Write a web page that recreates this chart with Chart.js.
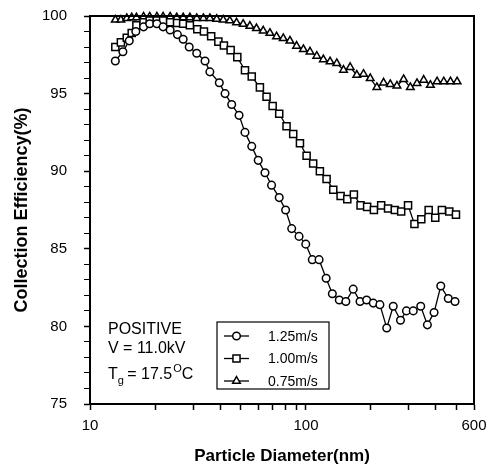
<!DOCTYPE html>
<html>
<head>
<meta charset="utf-8">
<script src="https://cdn.jsdelivr.net/npm/chart.js@4.4.0/dist/chart.umd.min.js"></script>
<style>
  html, body { margin: 0; padding: 0; background: #fff; }
</style>
</head>
<body>
<canvas id="c" width="493" height="468"></canvas>
<script>
// particle diameter (nm) and collection efficiency (%) for each gas velocity
const diam125 = [13.1, 14.2, 15.2, 16.3, 17.7, 18.9, 20.4, 21.8, 23.5, 25.4, 27.0, 28.8, 31.2, 34.1, 35.9, 39.7, 42.2, 45.3, 49.0, 52.2,
  56.1, 60.1, 64.6, 69.3, 75.2, 80.5, 85.9, 92.9, 99.8, 107, 115, 124, 132.5, 142.7, 153, 165.5, 178, 191, 205, 220,
  236.6, 253.6, 274, 292, 314, 340, 365, 392, 421, 456, 490];
const eff125 = [97.1, 97.7, 98.4, 99.0, 99.3, 99.5, 99.5, 99.3, 99.1, 98.8, 98.5, 98.0, 97.6, 97.1, 96.4, 95.7, 95.0, 94.3, 93.6, 92.5,
  91.6, 90.7, 89.9, 89.1, 88.3, 87.5, 86.3, 85.8, 85.3, 84.3, 84.3, 83.1, 82.1, 81.7, 81.6, 82.4, 81.6, 81.7, 81.5, 81.4,
  79.9, 81.3, 80.4, 81.0, 81.0, 81.3, 80.1, 80.9, 82.6, 81.8, 81.6];

const diam100 = [13.1, 13.9, 14.8, 15.6, 16.4, 17.7, 18.9, 20.4, 21.8, 23.5, 25.3, 27.0, 29.0, 31.4, 33.7, 36.4, 39.3, 41.7, 44.8, 48.1,
  52.2, 56.1, 61.2, 65.7, 70.1, 75.2, 81.3, 87.3, 93.8, 100.7, 108, 116, 124.6, 133.8, 144.7, 155.4, 166.7, 179, 192, 206.4,
  223, 240, 258, 276, 297, 318, 342, 370, 397, 426, 461, 495];
const eff100 = [98.0, 98.3, 98.6, 98.9, 99.4, 99.6, 99.7, 99.7, 99.7, 99.6, 99.55, 99.5, 99.4, 99.15, 99.0, 98.7, 98.35, 98.1, 97.8, 97.35,
  96.5, 96.1, 95.4, 94.8, 94.2, 93.7, 92.9, 92.4, 91.8, 91.0, 90.5, 90.0, 89.5, 88.8, 88.4, 88.2, 88.5, 87.8, 87.7, 87.5,
  87.8, 87.6, 87.5, 87.4, 87.8, 86.6, 86.9, 87.5, 87.0, 87.5, 87.4, 87.2];

const diam075 = [13.1, 13.9, 14.8, 15.6, 16.4, 17.7, 18.9, 20.4, 21.8, 23.5, 25.2, 27.0, 29.0, 31.2, 33.5, 35.9, 38.6, 41.4, 44.4, 47.7,
  51.2, 55.0, 59.0, 63.4, 68.1, 73.1, 78.5, 84.3, 90.5, 97.3, 104.4, 112.2, 120.4, 129.3, 138.9, 149.2, 160.2, 172, 184.7, 198.4,
  213, 228.8, 245.7, 263.8, 283.3, 304.3, 326.7, 350.9, 376.8, 404.7, 434.6, 466.7, 501];
const eff075 = [99.75, 99.75, 99.85, 99.9, 99.9, 99.95, 99.95, 99.95, 99.95, 99.95, 99.9, 99.9, 99.9, 99.85, 99.85, 99.85, 99.8, 99.75, 99.7, 99.57,
  99.48, 99.36, 99.2, 99.05, 98.9, 98.67, 98.56, 98.4, 98.07, 97.85, 97.7, 97.42, 97.2, 97.06, 96.95, 96.52, 96.7, 96.2, 96.26, 95.98,
  95.4, 95.7, 95.6, 95.5, 95.92, 95.4, 95.66, 95.88, 95.55, 95.77, 95.77, 95.77, 95.77];

const seriesLabels = ['1.25m/s', '1.00m/s', '0.75m/s'];
const markerStyles = ['circle', 'rect', 'triangle'];
const markerSizes = [3.8, 5.0, 4.4];

const xTickValues = [10, 20, 30, 40, 50, 60, 70, 80, 90, 100, 200, 300, 400, 500, 600];
const xTickLabels = [10, 100, 600];
const yMajorTicks = [75, 80, 85, 90, 95, 100];

const FONT = '"Liberation Sans", Arial, sans-serif';

function toPoints(xs, ys) {
  return xs.map((x, i) => ({ x: x, y: ys[i] }));
}

function makeSet(i, xs, ys) {
  return {
    label: seriesLabels[i],
    data: toPoints(xs, ys),
    showLine: true,
    borderColor: '#000',
    borderWidth: 1.3,
    pointStyle: markerStyles[i],
    pointRadius: markerSizes[i],
    pointBackgroundColor: '#fff',
    pointBorderColor: '#000',
    pointBorderWidth: 1.5,
    tension: 0,
    clip: false
  };
}

function drawMarker(ctx, style, x, y, r) {
  ctx.beginPath();
  if (style === 'circle') {
    ctx.arc(x, y, r, 0, Math.PI * 2);
  } else if (style === 'rect') {
    const s = r * Math.SQRT1_2;
    ctx.rect(x - s, y - s, 2 * s, 2 * s);
  } else {
    ctx.moveTo(x, y - r);
    ctx.lineTo(x + r * 0.866, y + r * 0.5);
    ctx.lineTo(x - r * 0.866, y + r * 0.5);
    ctx.closePath();
  }
  ctx.fillStyle = '#fff';
  ctx.fill();
  ctx.stroke();
}

const decorPlugin = {
  id: 'decor',
  afterDraw(chart) {
    const ctx = chart.ctx;
    const ca = chart.chartArea;
    ctx.save();
    // frame round the plot
    ctx.strokeStyle = '#000';
    ctx.lineWidth = 2;
    ctx.strokeRect(ca.left, ca.top, ca.right - ca.left, ca.bottom - ca.top);

    // legend box, kept at its place above the x axis
    const bx = ca.left + 127, by = ca.bottom - 82, bw = 112, bh = 67;
    ctx.lineWidth = 1.2;
    ctx.strokeRect(bx, by, bw, bh);
    ctx.font = '14px ' + FONT;
    ctx.textBaseline = 'middle';
    ctx.fillStyle = '#000';
    chart.data.datasets.forEach((ds, i) => {
      const ry = by + 14 + i * 22.5;
      ctx.lineWidth = 1.3;
      ctx.beginPath();
      ctx.moveTo(bx + 7, ry);
      ctx.lineTo(bx + 32, ry);
      ctx.stroke();
      ctx.lineWidth = 1.5;
      drawMarker(ctx, markerStyles[i], bx + 19.5, ry, markerSizes[i]);
      ctx.fillStyle = '#000';
      ctx.fillText(ds.label, bx + 51, ry + 1);
    });

    // run conditions
    const tx = ca.left + 18;
    const base = ca.bottom;
    ctx.font = '16px ' + FONT;
    ctx.textBaseline = 'alphabetic';
    ctx.fillText('POSITIVE', tx, base - 70);
    ctx.fillText('V = 11.0kV', tx, base - 51);
    ctx.fillText('T', tx, base - 25);
    let w = ctx.measureText('T').width;
    ctx.font = '11px ' + FONT;
    ctx.fillText('g', tx + w, base - 20);
    ctx.font = '16px ' + FONT;
    const part = ' = 17.5';
    ctx.fillText(part, tx + w + 5, base - 25);
    let w2 = tx + w + 5 + ctx.measureText(part).width;
    ctx.font = '11px ' + FONT;
    ctx.fillText('O', w2 + 1, base - 32);
    let w3 = ctx.measureText('O').width;
    ctx.font = '16px ' + FONT;
    ctx.fillText('C', w2 + 1 + w3, base - 25);
    ctx.restore();
  }
};

new Chart(document.getElementById('c').getContext('2d'), {
  type: 'scatter',
  data: {
    datasets: [
      makeSet(0, diam125, eff125),
      makeSet(1, diam100, eff100),
      makeSet(2, diam075, eff075)
    ]
  },
  options: {
    responsive: false,
    animation: false,
    devicePixelRatio: 1,
    layout: { padding: { top: 16, right: 19, bottom: 0, left: 0 } },
    plugins: {
      legend: { display: false },
      tooltip: { enabled: false }
    },
    scales: {
      x: {
        type: 'logarithmic',
        min: 10,
        max: 600,
        afterBuildTicks: (scale) => {
          scale.ticks = xTickValues.map(v => ({ value: v }));
        },
        afterFit: (scale) => {
          scale.height = 64;
          scale.paddingLeft = 0;
          scale.paddingRight = 0;
        },
        grid: { drawOnChartArea: false, drawTicks: true, tickLength: 6, tickColor: '#000', tickWidth: 1.5 },
        border: { color: '#000', width: 2 },
        ticks: {
          autoSkip: false,
          maxRotation: 0,
          padding: 7,
          color: '#000',
          font: { family: FONT, size: 15 },
          callback: (v) => xTickLabels.includes(v) ? String(v) : ''
        },
        title: {
          display: true,
          text: 'Particle Diameter(nm)',
          color: '#000',
          font: { family: FONT, size: 17, weight: 'bold' },
          padding: { top: 0, bottom: 1 }
        }
      },
      y: {
        min: 75,
        max: 100,
        afterFit: (scale) => {
          scale.width = 90;
          scale.paddingTop = 0;
          scale.paddingBottom = 0;
        },
        grid: {
          drawOnChartArea: false, drawTicks: true, tickLength: 6, tickColor: '#000',
          tickWidth: (c) => yMajorTicks.includes(c.tick.value) ? 1.5 : 1
        },
        border: { color: '#000', width: 2 },
        ticks: {
          stepSize: 1,
          autoSkip: false,
          padding: 17,
          color: '#000',
          font: { family: FONT, size: 15 },
          callback: (v) => yMajorTicks.includes(v) ? String(v) : ''
        },
        title: {
          display: true,
          text: 'Collection Efficiency(%)',
          color: '#000',
          font: { family: FONT, size: 18, weight: 'bold' },
          padding: { top: 11, bottom: 0 }
        }
      }
    }
  },
  plugins: [decorPlugin]
});
</script>
</body>
</html>
